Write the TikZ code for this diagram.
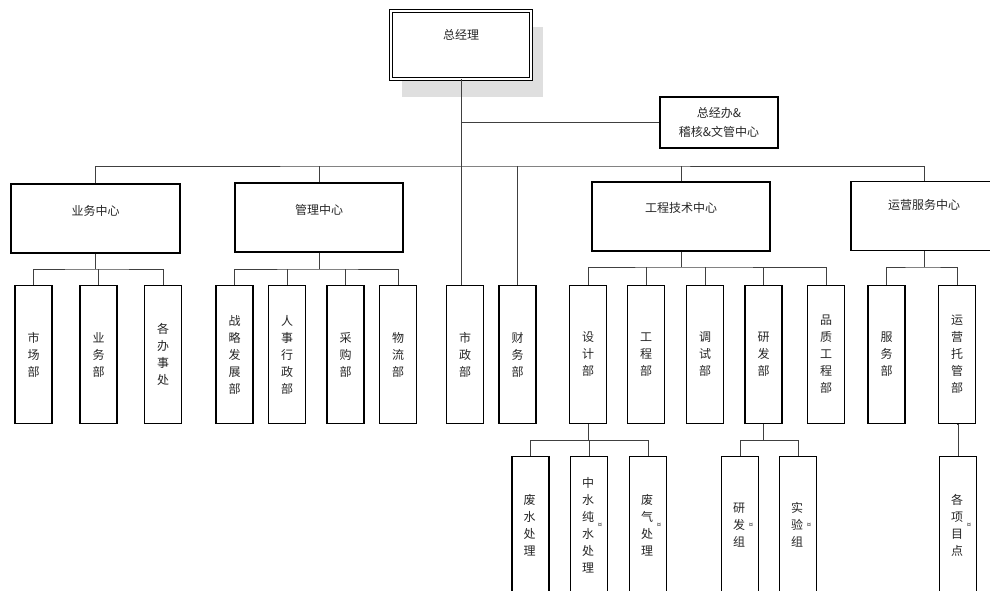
\documentclass[tikz,border=0pt]{standalone}
\usepackage{fontspec}
\newfontfamily\cjk{Noto Sans CJK SC}
\begin{document}
\begin{tikzpicture}[x=1pt,y=-1pt,
  box/.style={draw=black, line width=1.2pt, fill=white, inner sep=0pt},
  hbox/.style={box, minimum height=69pt},
  vbox/.style={box, minimum width=37pt, minimum height=138pt},
  bbox/.style={box, minimum width=37pt, minimum height=160pt},
  lbl/.style={font=\cjk\fontsize{12}{17}\selectfont, align=center, inner sep=0pt, text=black!85},
  mk/.style={font=\cjk\fontsize{7}{7}\selectfont, inner sep=0pt, text=black!80},
  conn/.style={draw=black!75, line width=0.8pt}]
\useasboundingbox (0,0) rectangle (990,590);
\fill[white] (0,0) rectangle (990,590);

% CEO
\fill[gray!25] (402,27) rectangle (543,97);
\node[draw=black, line width=0.9pt, double, double distance=1.6pt, fill=white, minimum width=140pt, minimum height=68pt, inner sep=0pt] (ceo) at (461,45) {};
\node[lbl] (ceot) at (461,35) {总经理};

\node[box, minimum width=118pt, minimum height=51pt, lbl] (office) at (719,122.5) {总经办\&\\[2pt]稽核\&文管中心};

% centers
\node[hbox, minimum width=169pt] (biz) at (95.5,218.5) {};
\node[lbl] (bizt) at (95.5,211) {业务中心};
\node[hbox, minimum width=168pt] (mgmt) at (319,217.5) {};
\node[lbl] (mgmtt) at (319,210) {管理中心};
\node[hbox, minimum width=178pt] (eng) at (681,216.5) {};
\node[lbl] (engt) at (681,208) {工程技术中心};
\node[hbox, minimum width=146pt] (ops) at (924,216) {};
\node[lbl] (opst) at (924,205) {运营服务中心};

% departments
\newcommand\vb[3]{\node[vbox, lbl] (#1) at (#2,354.5) {#3};}
\vb{scb}{33.5}{市\\场\\部}
\vb{ywb}{98.5}{业\\务\\部}
\vb{bsc}{163}{各\\办\\事\\处}
\vb{zlb}{234.5}{战\\略\\发\\展\\部}
\vb{rsb}{287}{人\\事\\行\\政\\部}
\vb{cgb}{345.5}{采\\购\\部}
\vb{wlb}{398}{物\\流\\部}
\vb{szb}{465}{市\\政\\部}
\vb{cwb}{517.5}{财\\务\\部}
\vb{sjb}{588}{设\\计\\部}
\vb{gcb}{646}{工\\程\\部}
\vb{tsb}{705}{调\\试\\部}
\vb{yfb}{763.5}{研\\发\\部}
\vb{pzb}{826}{品\\质\\工\\程\\部}
\vb{fwb}{886.5}{服\\务\\部}
\vb{tgb}{957}{运\\营\\托\\管\\部}

% bottom level
\newcommand\bb[4]{\node[bbox] (#1) at (#2,536.5) {};
  \node[lbl] (#1t) at (#2-1,525) {#3};
  \if#4y\node[mk] (#1m) at (#2+11,525.5) {¤};\fi}
\bb{fscl}{530.5}{废\\水\\处\\理}{n}
\bb{zscl}{589}{中\\水\\纯\\水\\处\\理}{y}
\bb{fqcl}{648}{废\\气\\处\\理}{y}
\bb{yfz}{740}{研\\发\\组}{y}
\bb{syz}{798}{实\\验\\组}{y}
\bb{xmd}{958}{各\\项\\目\\点}{y}

% coordinates
\coordinate (bus) at (461,166);
\coordinate (bizbus) at (95.5,269);
\coordinate (mgmtbus) at (319,269);
\coordinate (engbus) at (681,267);
\coordinate (opsbus) at (924,267);
\coordinate (sjbus) at (588,440);
\coordinate (yfbus) at (763.5,440);

% connectors
\draw[conn] (ceo.south) -- (ceo.south |- szb.north);
\draw[conn] (ceo.south |- office.west) -- (office.west);
\draw[conn] (biz.north) |- (bus) -| (ops.north);
\draw[conn] (mgmt.north) -- (mgmt.north |- bus);
\draw[conn] (cwb.north) -- (cwb.north |- bus);
\draw[conn] (eng.north) -- (eng.north |- bus);

\draw[conn] (biz.south) -- (bizbus);
\draw[conn] (scb.north) |- (bizbus) -| (bsc.north);
\draw[conn] (ywb.north) -- (ywb.north |- bizbus);

\draw[conn] (mgmt.south) -- (mgmtbus);
\draw[conn] (zlb.north) |- (mgmtbus) -| (wlb.north);
\draw[conn] (rsb.north) -- (rsb.north |- mgmtbus);
\draw[conn] (cgb.north) -- (cgb.north |- mgmtbus);

\draw[conn] (eng.south) -- (engbus);
\draw[conn] (sjb.north) |- (engbus) -| (pzb.north);
\draw[conn] (gcb.north) -- (gcb.north |- engbus);
\draw[conn] (tsb.north) -- (tsb.north |- engbus);
\draw[conn] (yfb.north) -- (yfb.north |- engbus);

\draw[conn] (ops.south) -- (opsbus);
\draw[conn] (fwb.north) |- (opsbus) -| (tgb.north);

\draw[conn] (sjb.south) -- (sjbus);
\draw[conn] (fscl.north) |- (sjbus) -| (fqcl.north);
\draw[conn] (zscl.north) -- (zscl.north |- sjbus);

\draw[conn] (yfb.south) -- (yfbus);
\draw[conn] (yfz.north) |- (yfbus) -| (syz.north);

\draw[conn] (tgb.south) -- (tgb.south -| xmd.north) -- (xmd.north);
\end{tikzpicture}
\end{document}
